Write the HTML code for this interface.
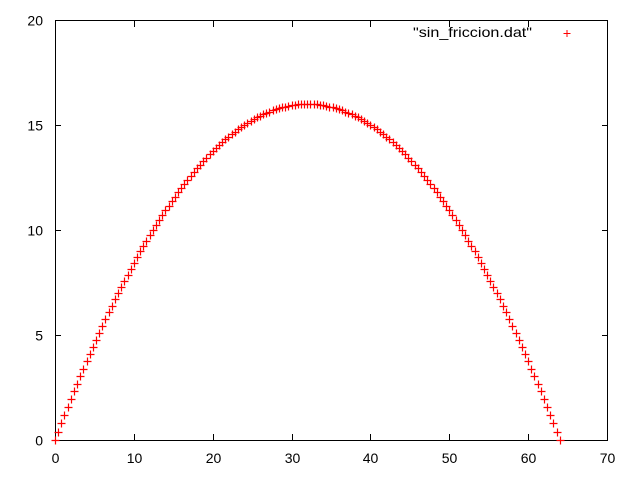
<!DOCTYPE html>
<html><head><meta charset="utf-8"><style>
body{margin:0;background:#fff}
svg{display:block;font-family:"Liberation Sans",sans-serif;font-size:14px}
</style></head><body>
<svg id="chart" width="640" height="480" viewBox="0 0 640 480">
<rect x="0" y="0" width="640" height="480" fill="#fff"/>
<g id="axes"></g>
<g id="marks"></g>
<g>
<text x="532" y="37" text-anchor="end" textLength="119" lengthAdjust="spacingAndGlyphs">"sin_friccion.dat"</text>
<path d="M563.5 33.5h7M567 30v7" stroke="#f00" stroke-width="1"/>
</g>
</svg>
<script>
const xTicks=[0,10,20,30,40,50,60,70];
const yTicks=[0,5,10,15,20];
const xs=[0,0.4,0.8,1.2,1.6,2,2.4,2.8,3.2,3.6,4,4.4,4.8,5.2,5.6,6,6.4,6.8,7.2,7.6,8,8.4,8.8,9.2,9.6,10,10.4,10.8,11.2,11.6,12,12.4,12.8,13.2,13.6,14,14.4,14.8,15.2,15.6,16,16.4,16.8,17.2,17.6,18,18.4,18.8,19.2,19.6,20,20.4,20.8,21.2,21.6,22,22.4,22.8,23.2,23.6,24,24.4,24.8,25.2,25.6,26,26.4,26.8,27.2,27.6,28,28.4,28.8,29.2,29.6,30,30.4,30.8,31.2,31.6,32,32.4,32.8,33.2,33.6,34,34.4,34.8,35.2,35.6,36,36.4,36.8,37.2,37.6,38,38.4,38.8,39.2,39.6,40,40.4,40.8,41.2,41.6,42,42.4,42.8,43.2,43.6,44,44.4,44.8,45.2,45.6,46,46.4,46.8,47.2,47.6,48,48.4,48.8,49.2,49.6,50,50.4,50.8,51.2,51.6,52,52.4,52.8,53.2,53.6,54,54.4,54.8,55.2,55.6,56,56.4,56.8,57.2,57.6,58,58.4,58.8,59.2,59.6,60,60.4,60.8,61.2,61.6,62,62.4,62.8,63.2,63.6,64];
const ys=[0,0.40,0.79,1.18,1.56,1.94,2.31,2.68,3.04,3.40,3.75,4.10,4.44,4.78,5.11,5.44,5.76,6.08,6.39,6.70,7.00,7.30,7.59,7.88,8.16,8.44,8.71,8.98,9.24,9.50,9.75,10.00,10.24,10.48,10.71,10.94,11.16,11.38,11.59,11.80,12.00,12.20,12.39,12.58,12.76,12.94,13.11,13.28,13.44,13.60,13.75,13.90,14.04,14.18,14.31,14.44,14.56,14.68,14.79,14.90,15.00,15.10,15.19,15.28,15.36,15.44,15.51,15.58,15.64,15.70,15.75,15.80,15.84,15.88,15.91,15.94,15.96,15.98,15.99,16.00,16.00,16.00,15.99,15.98,15.96,15.94,15.91,15.88,15.84,15.80,15.75,15.70,15.64,15.58,15.51,15.44,15.36,15.28,15.19,15.10,15.00,14.90,14.79,14.68,14.56,14.44,14.31,14.18,14.04,13.90,13.75,13.60,13.44,13.28,13.11,12.94,12.76,12.58,12.39,12.20,12.00,11.80,11.59,11.38,11.16,10.94,10.71,10.48,10.24,10.00,9.75,9.50,9.24,8.98,8.71,8.44,8.16,7.88,7.59,7.30,7.00,6.70,6.39,6.08,5.76,5.44,5.11,4.78,4.44,4.10,3.75,3.40,3.04,2.68,2.31,1.94,1.56,1.18,0.79,0.40,0];
const L=55,R=607,T=20,B=440;
const sx=v=>L+(v-0)/(70-0)*(R-L);
const sy=v=>B-(v-0)/(20-0)*(B-T);
const NS="http://www.w3.org/2000/svg";
const axes=document.getElementById('axes');
function mk(tag,attrs,parent){const e=document.createElementNS(NS,tag);for(const k in attrs)e.setAttribute(k,attrs[k]);parent.appendChild(e);return e;}
const frame=mk('rect',{x:L+0.5,y:T+0.5,width:R-L,height:B-T,fill:'none',stroke:'#000','stroke-width':1},axes);


xTicks.forEach(v=>{
  const x=Math.round(sx(v))+0.5;
  const t=mk('path',{d:`M${x} ${B}v-6M${x} ${T+1}v6`,stroke:'#000','stroke-width':1},axes);
  
  
  const l=mk('text',{x:x,y:B+23,'text-anchor':'middle'},axes);
  l.textContent=v;
  
  
});
yTicks.forEach(v=>{
  const y=Math.round(sy(v))+0.5;
  const t=mk('path',{d:`M${L} ${y}h6M${R+1} ${y}h-6`,stroke:'#000','stroke-width':1},axes);
  
  
  const l=mk('text',{x:L-12,y:y+5,'text-anchor':'end'},axes);
  l.textContent=v;
  
  
});
const marks=document.getElementById('marks');
xs.forEach((xv,i)=>{
  const x=Math.round(sx(xv))+0.5,y=Math.round(sy(ys[i]))+0.5;
  const p=mk('path',{d:`M${x-4} ${y}h8M${x} ${y-4}v8`,stroke:'#f00','stroke-width':1.2},marks);
  
  
});
</script>
</body></html>
